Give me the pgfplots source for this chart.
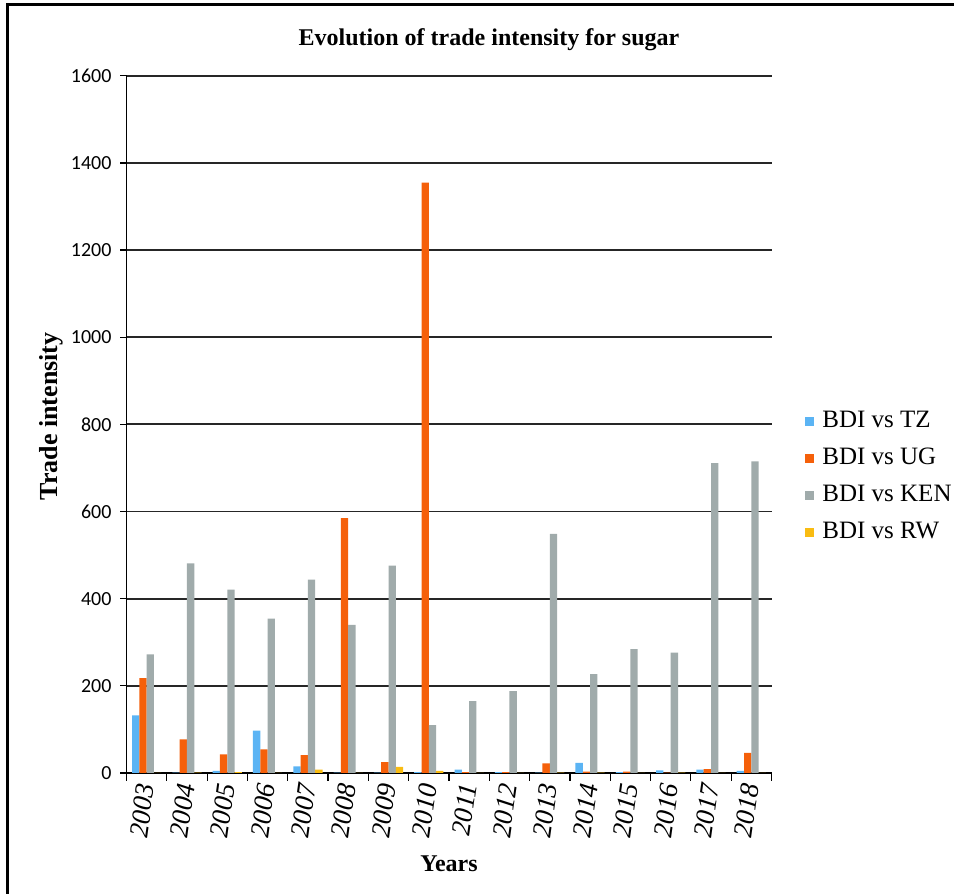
\documentclass[border=0pt]{standalone}
\usepackage{fontspec}
\setmainfont{Liberation Serif}
\newfontfamily\calibri{Carlito}
\usepackage{pgfplots}
\pgfplotsset{compat=1.18}
\definecolor{cTZ}{HTML}{5BB4F4}
\definecolor{cUG}{HTML}{F5600A}
\definecolor{cKEN}{HTML}{A0ABAB}
\definecolor{cRW}{HTML}{F9BC12}
\begin{document}
\begin{tikzpicture}
\path[use as bounding box] (0,0) rectangle (477pt,447pt);
\draw[line width=1.5pt] (3.5pt,0) -- (3.5pt,444.5pt) -- (477pt,444.5pt);
\node[font=\bfseries\fontsize{12}{14}\selectfont] at (244.5pt,427pt) {Evolution of trade intensity for sugar};
\begin{axis}[
  at={(63.25pt,60.5pt)}, anchor=south west,
  scale only axis, width=322.5pt, height=348.6pt,
  ybar=0pt, bar width=3.65pt,
  xmin=-0.5, xmax=15.5, ymin=0, ymax=1600,
  axis x line*=bottom, axis y line*=left,
  axis line style={line width=0.6pt, black},
  xtick={0,...,15},
  xticklabels={2003,2004,2005,2006,2007,2008,2009,2010,2011,2012,2013,2014,2015,2016,2017,2018},
  major x tick style={draw=none},
  minor xtick={-0.5,0.5,...,15.5},
  minor tick length=4pt,
  minor x tick style={line width=0.6pt, black},
  ytick={0,200,...,1600},
  major tick length=3pt,
  tick align=outside,
  y tick style={line width=0.6pt, black},
  ymajorgrids, grid style={line width=0.9pt, black!85},
  /pgf/number format/assume math mode=true,
  /pgf/number format/1000 sep={},
  scaled y ticks=false,
  yticklabel style={font=\calibri\fontsize{10}{11}\selectfont, xshift=-1pt},
  xticklabel style={font=\itshape\fontsize{13.5}{14}\selectfont, rotate=82, anchor=east, xshift=1pt},
  xlabel={Years}, xlabel style={font=\bfseries\fontsize{12}{14}\selectfont, at={(0.5,0)}, anchor=north, yshift=-38pt},
  ylabel={Trade intensity}, ylabel style={font=\bfseries\fontsize{13}{15}\selectfont, yshift=-3pt, xshift=4pt},
  legend style={at={(1.052,0.522)}, anchor=north west, draw=none, fill=none, inner sep=0pt,
    font=\fontsize{12.5}{14}\selectfont, row sep=6.8pt,
    nodes={inner sep=1pt}},
  legend cell align=left,
]
\addplot[fill=cTZ, draw=none, legend image code/.code={\fill[cTZ] (0pt,-2.25pt) rectangle (4.5pt,2.25pt); \path (7.5pt,0);}] coordinates {
(0,132) (1,1) (2,5) (3,97) (4,15) (5,1) (6,1) (7,2) (8,8) (9,2) (10,1) (11,23) (12,2) (13,6) (14,8) (15,5)};
\addplot[fill=cUG, draw=none, legend image code/.code={\fill[cUG] (0pt,-2.25pt) rectangle (4.5pt,2.25pt); \path (7.5pt,0);}] coordinates {
(0,218) (1,77) (2,43) (3,54) (4,41) (5,585) (6,25) (7,1355) (8,2) (9,2) (10,22) (11,3) (12,3) (13,1) (14,9) (15,46)};
\addplot[fill=cKEN, draw=none, legend image code/.code={\fill[cKEN] (0pt,-2.25pt) rectangle (4.5pt,2.25pt); \path (7.5pt,0);}] coordinates {
(0,272) (1,481) (2,421) (3,354) (4,444) (5,340) (6,476) (7,110) (8,165) (9,188) (10,549) (11,227) (12,284) (13,276) (14,711) (15,715)};
\addplot[fill=cRW, draw=none, legend image code/.code={\fill[cRW] (0pt,-2.25pt) rectangle (4.5pt,2.25pt); \path (7.5pt,0);}] coordinates {
(0,0) (1,1) (2,2) (3,0) (4,8) (5,0) (6,14) (7,5) (8,0) (9,0) (10,1) (11,1) (12,0) (13,1) (14,0) (15,0)};
\legend{BDI vs TZ, BDI vs UG, BDI vs KEN, BDI vs RW}
\end{axis}
\end{tikzpicture}
\end{document}
